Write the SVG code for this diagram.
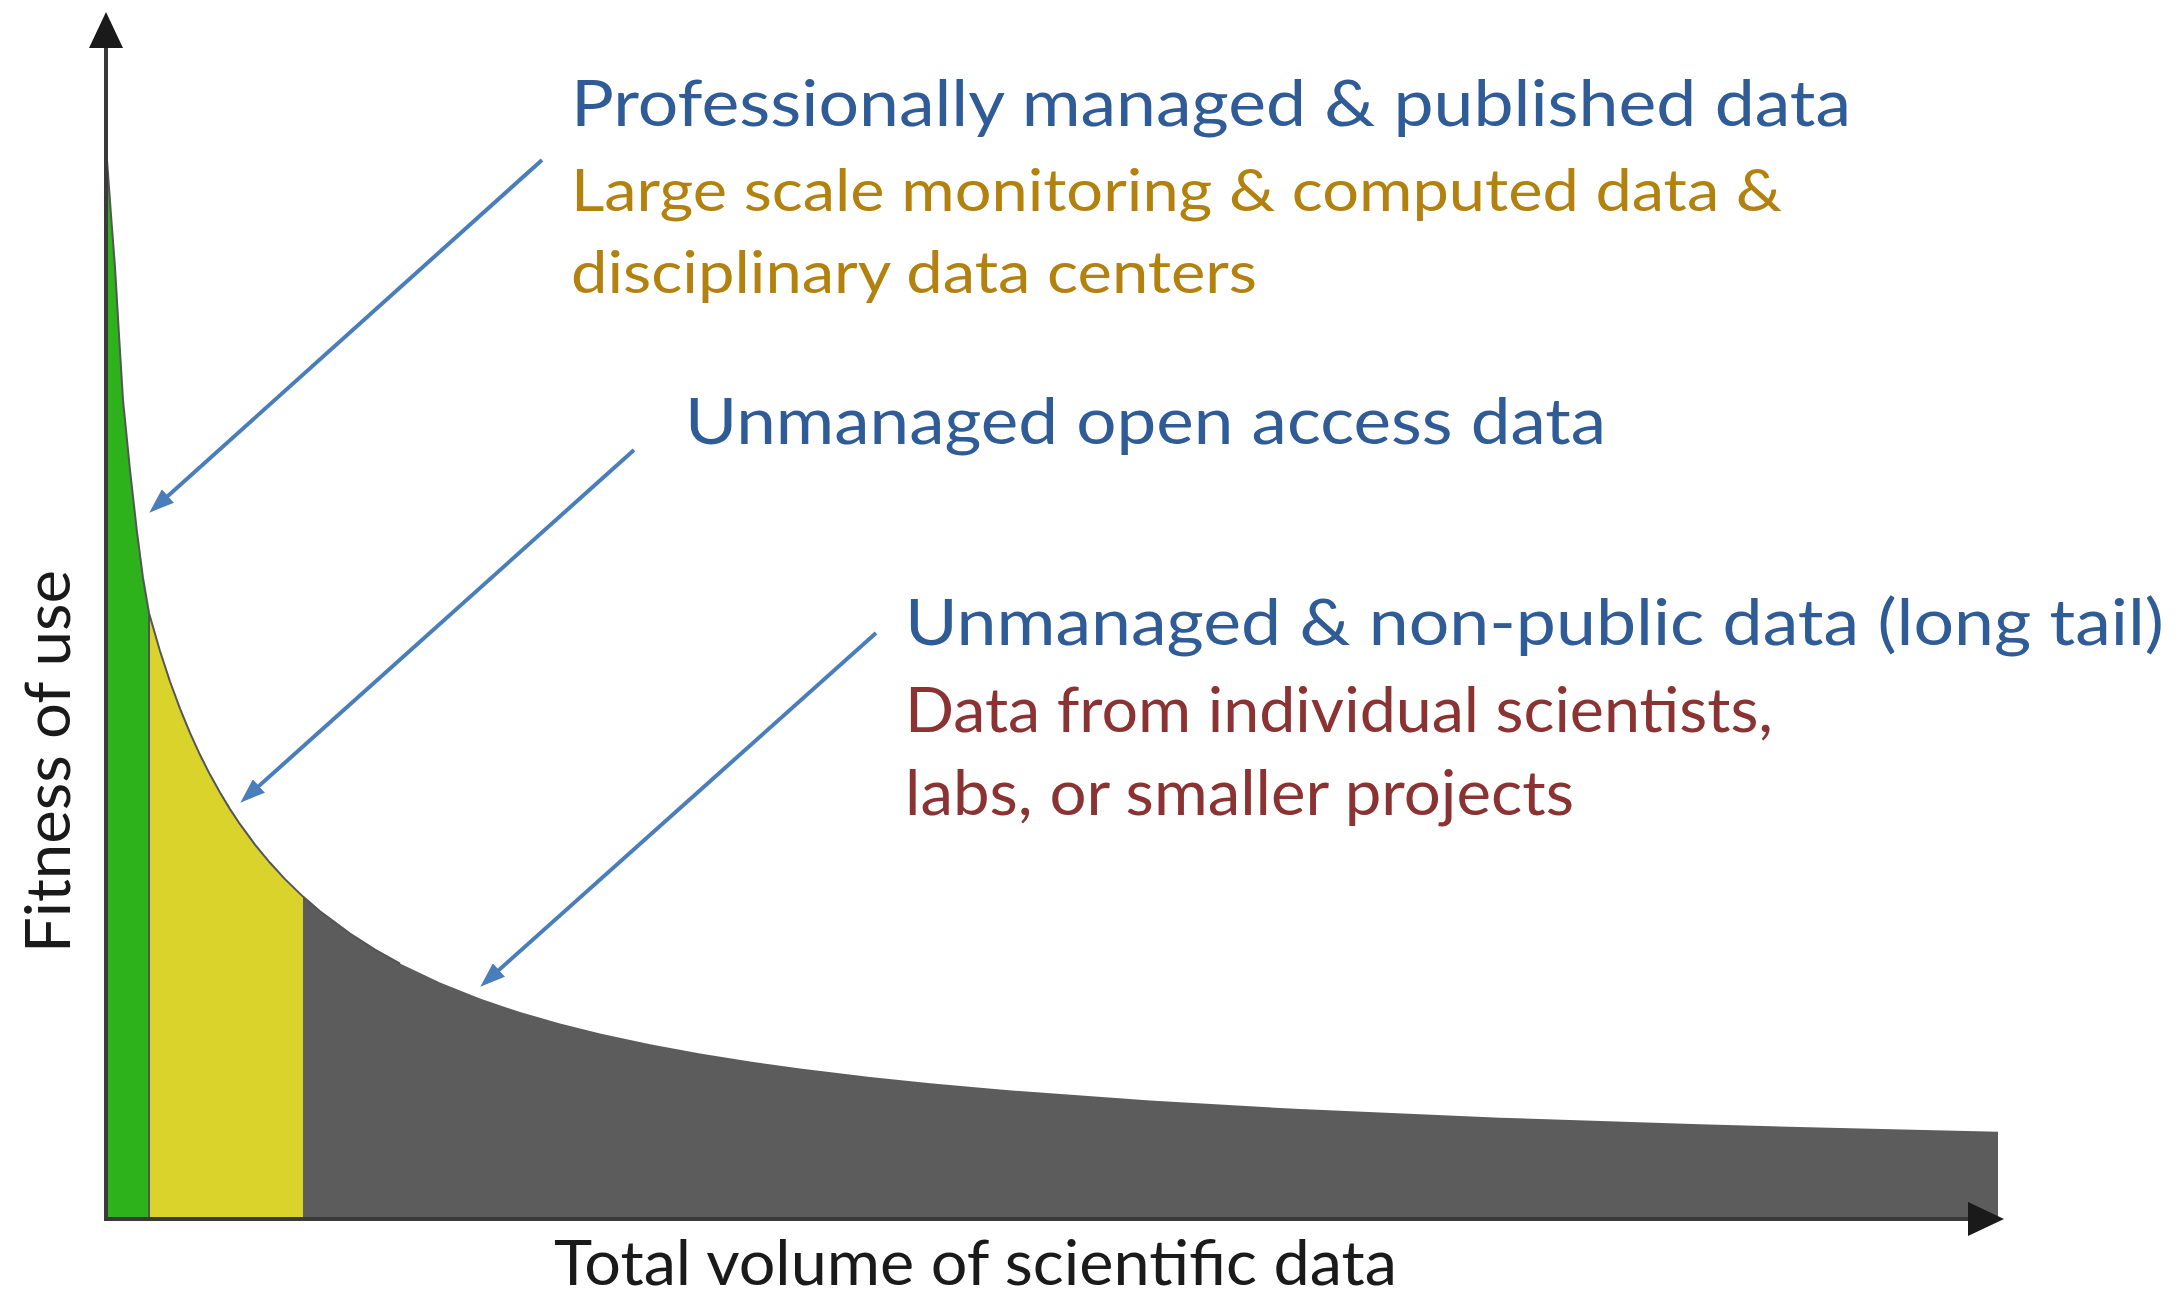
<svg xmlns="http://www.w3.org/2000/svg" width="2179" height="1300" viewBox="0 0 2179 1300">
<style>
text { font-family: Lato, "Open Sans", "Liberation Sans", sans-serif; }
.blue { fill: #2F5B96; font-size: 64px; }
.gold { fill: #B3820E; font-size: 59px; }
.red { fill: #8B3232; font-size: 61px; }
.axlab { fill: #1a1a1a; font-size: 61px; }
.axis { stroke: #3a3a3a; stroke-width: 4; fill: none; }
.conn { stroke: #4A7EBB; stroke-width: 4; fill: none; }
.edge { stroke: #555555; stroke-width: 2; fill: none; }
</style>
<defs>
<marker id="axhead" markerUnits="userSpaceOnUse" markerWidth="36" markerHeight="34" viewBox="0 0 36 34" refX="0" refY="17" orient="auto">
<path d="M0,0 L36,17 L0,34 Z" fill="#1a1a1a"/>
</marker>
<marker id="bluehead" markerUnits="userSpaceOnUse" markerWidth="25" markerHeight="18" viewBox="0 0 25 18" refX="18" refY="9" orient="auto">
<path d="M0,0 L25,9 L0,18 Z" fill="#4A7EBB"/>
</marker>
</defs>
<rect width="2179" height="1300" fill="#ffffff"/>

<g id="regions">
<path id="green" d="M107,1218 L107,160 L111,215 L115,267 L119,335 L123,400 L130,470 L137,532 L143,578 L149,613 L149,1218 Z" fill="#2DB21B"/>
<path id="yellow" d="M149,1218 L149,613 L150,616.5 L160,651 L170,681.5 L180,708.6 L190,732.9 L200,754.8 L210,774.6 L220,792.6 L230,809.1 L240,824.2 L255,844.7 L270,862.8 L285,879.1 L303,896.6 L303,1218 Z" fill="#DAD32C"/>
<path id="gray" d="M303,1218 L303,896.6 L320,911.2 L350,933.6 L375,949.6 L400,963.6 L440,982.6 L480,998.5 L520,1012 L560,1023.5 L600,1033.5 L650,1044.3 L700,1053.5 L750,1061.6 L800,1068.6 L870,1077 L930,1083.3 L1000,1089.6 L1150,1100.6 L1300,1109.1 L1500,1117.7 L1700,1124.3 L1850,1128.3 L1998,1131.7 L1998,1218 Z" fill="#5C5C5C"/>
<path class="edge" d="M107,160 L111,215 L115,267 L119,335 L123,400 L130,470 L137,532 L143,578 L149,613 L150,616.5 L160,651 L170,681.5 L180,708.6 L190,732.9 L200,754.8 L210,774.6 L220,792.6 L230,809.1 L240,824.2 L255,844.7 L270,862.8 L285,879.1 L303,896.6 L320,911.2 L350,933.6 L375,949.6 L400,963.6"/>
<line class="edge" x1="149" y1="613" x2="149" y2="1218" stroke-width="2.5"/>
</g>

<g id="axes">
<line class="axis" x1="106" y1="1219" x2="106" y2="48" marker-end="url(#axhead)"/>
<line class="axis" x1="104" y1="1219" x2="1968" y2="1219" marker-end="url(#axhead)"/>
</g>

<g id="connectors">
<line class="conn" x1="542" y1="160" x2="154.5" y2="508" marker-end="url(#bluehead)"/>
<line class="conn" x1="634" y1="450" x2="245.5" y2="798" marker-end="url(#bluehead)"/>
<line class="conn" x1="876" y1="633" x2="485.5" y2="982" marker-end="url(#bluehead)"/>
</g>

<g id="label-professional">
<text class="blue" x="571" y="126" textLength="1280" lengthAdjust="spacingAndGlyphs">Professionally managed &amp; published data</text>
<text class="gold" x="571" y="211" textLength="1211" lengthAdjust="spacingAndGlyphs">Large scale monitoring &amp; computed data &amp;</text>
<text class="gold" x="571" y="293" textLength="686" lengthAdjust="spacingAndGlyphs">disciplinary data centers</text>
</g>

<g id="label-open">
<text class="blue" x="685" y="444" textLength="921" lengthAdjust="spacingAndGlyphs">Unmanaged open access data</text>
</g>

<g id="label-longtail">
<text class="blue" x="905" y="645" textLength="1259" lengthAdjust="spacingAndGlyphs">Unmanaged &amp; non-public data (long tail)</text>
<text class="red" x="905" y="732" textLength="868" lengthAdjust="spacingAndGlyphs">Data from individual scientists,</text>
<text class="red" x="905" y="815" textLength="669" lengthAdjust="spacingAndGlyphs">labs, or smaller projects</text>
</g>

<g id="axis-labels">
<text class="axlab" x="554" y="1285" font-size="58" textLength="843" lengthAdjust="spacingAndGlyphs">Total volume of scientific data</text>
<text class="axlab" x="70" y="953" transform="rotate(-90 70 953)" font-size="63" textLength="383" lengthAdjust="spacingAndGlyphs">Fitness of use</text>
</g>
</svg>
